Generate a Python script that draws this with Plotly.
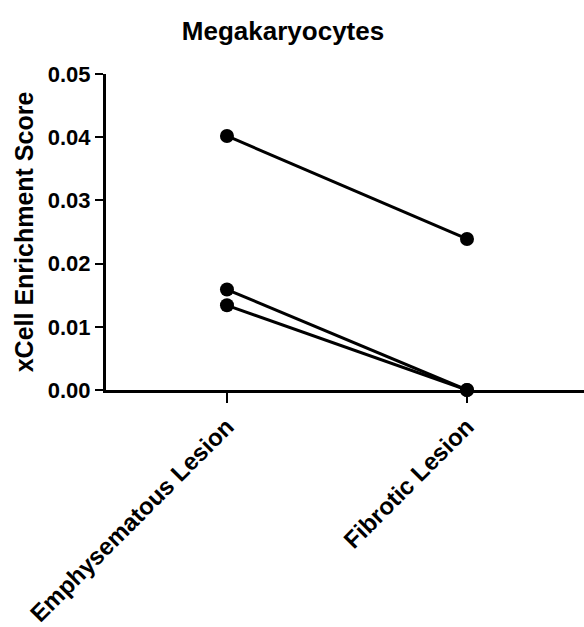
import plotly.graph_objects as go

categories = ["Emphysematous Lesion", "Fibrotic Lesion"]
emphysematous = [0.0402, 0.0159, 0.0134]
fibrotic = [0.0239, 0.0, 0.0]
y_ticks = [0.00, 0.01, 0.02, 0.03, 0.04, 0.05]
y_tick_labels = ["0.00", "0.01", "0.02", "0.03", "0.04", "0.05"]

FONT = "Liberation Sans, Arial, sans-serif"

fig = go.Figure()
for e, f in zip(emphysematous, fibrotic):
    fig.add_trace(go.Scatter(
        x=[0, 1], y=[e, f], mode="lines+markers",
        line=dict(color="black", width=3),
        marker=dict(color="black", size=14),
        showlegend=False, cliponaxis=False,
    ))

W, H = 584, 627
fig.update_layout(
    width=W, height=H,
    margin=dict(l=106, r=0, t=74, b=233),
    paper_bgcolor="white", plot_bgcolor="white",
    font=dict(family=FONT, color="black"),
    title=dict(text="<b>Megakaryocytes</b>", x=283/W, xref="container", xanchor="center",
               y=1 - 31/H, yref="container", yanchor="middle",
               font=dict(size=26, family=FONT, color="black")),
)
fig.update_xaxes(
    range=[-0.504, 1.4875], tickmode="array", tickvals=[0, 1],
    ticktext=[f"<b>{c}</b>" for c in categories], tickangle=-45,
    showline=True, linecolor="black", linewidth=3,
    ticks="outside", ticklen=10, tickwidth=2, tickcolor="black",
    showgrid=False, zeroline=False,
    tickfont=dict(size=24, family=FONT, color="black"),
)
fig.update_yaxes(
    range=[0, 0.05], tickmode="array", tickvals=y_ticks,
    ticktext=[f"<b>{t}</b>" for t in y_tick_labels],
    showline=True, linecolor="black", linewidth=3,
    ticks="outside", ticklen=8, tickwidth=2, tickcolor="black",
    showgrid=False, zeroline=False,
    tickfont=dict(size=22, family=FONT, color="black"),
    title=dict(text="<b>xCell Enrichment Score</b>", standoff=8,
               font=dict(size=25, family=FONT, color="black")),
)

fig.write_html(
    "out.html",
    config={"displayModeBar": False},
    post_script="document.body.style.margin='0';document.body.style.overflow='hidden';",
)
